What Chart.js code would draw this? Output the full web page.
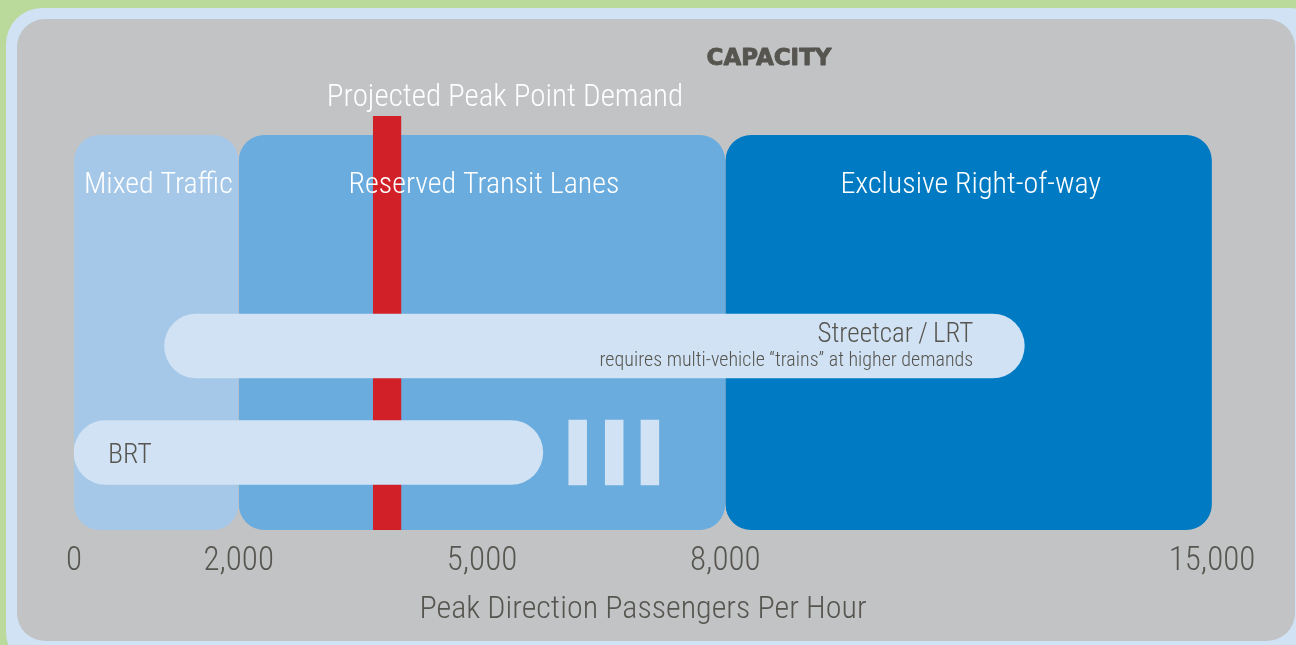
<!DOCTYPE html>
<html>
<head>
<meta charset="utf-8">
<script src="https://cdn.jsdelivr.net/npm/chart.js@4/dist/chart.umd.min.js"></script>
<style>
  html, body { margin: 0; padding: 0; background: #b9da9a; }
  canvas { display: block; }
</style>
</head>
<body>
<canvas id="canvas" width="1296" height="645"></canvas>
<script>
// passengers per hour, peak direction
const axisBreaks = [0, 2000, 8000, 15000];
const segmentSpans = [1.015, 3, 3];      // relative drawn width of each segment
const tickValues = [0, 2000, 5000, 8000, 15000];

const zoneNames = ['Mixed Traffic', 'Reserved Transit Lanes', 'Exclusive Right-of-way'];
const zoneRanges = [[0, 2000], [2000, 8000], [8000, 15000]];
const zoneColors = ['#a5c8e9', '#6aacde', '#007bc3'];

const streetcarRange = [1100, 12300];
const brtRange = [0, 5750];
const brtDashes = [[6070, 6290], [6520, 6740], [6960, 7180]];
const demandRange = [3660, 4000];

const FONT = '"Roboto Condensed", "DejaVu Sans Condensed", sans-serif';
const INK = '#56554f';

// rows along the hidden vertical axis (0 = top of plot area)
const rows = {
  zone: { y: 216.5, h: 395 },
  demand: { y: 207, h: 414 },
  streetcar: { y: 230, h: 64 },
  brt: { y: 336.5, h: 65 }
};

// x scale that gives each capacity segment its own width
class SegmentScale extends Chart.LinearScale {
  toUnits(v) {
    let u = 0;
    for (let i = 0; i < segmentSpans.length; i++) {
      const a = axisBreaks[i], b = axisBreaks[i + 1];
      if (v >= b && i < segmentSpans.length - 1) { u += segmentSpans[i]; continue; }
      return u + segmentSpans[i] * (v - a) / (b - a);
    }
    return u;
  }
  getPixelForValue(v) {
    if (v === null || isNaN(v)) return NaN;
    const total = segmentSpans.reduce((s, x) => s + x, 0);
    return this.getPixelForDecimal(this.toUnits(v) / total);
  }
  getValueForPixel(p) {
    const total = segmentSpans.reduce((s, x) => s + x, 0);
    let u = this.getDecimalForPixel(p) * total;
    for (let i = 0; i < segmentSpans.length; i++) {
      if (u <= segmentSpans[i] || i === segmentSpans.length - 1) {
        return axisBreaks[i] + (axisBreaks[i + 1] - axisBreaks[i]) * u / segmentSpans[i];
      }
      u -= segmentSpans[i];
    }
  }
}
SegmentScale.id = 'segment';
SegmentScale.defaults = Chart.LinearScale.defaults;
Chart.register(SegmentScale);

const panel = {
  id: 'panel',
  beforeDraw(chart) {
    const c = chart.ctx;
    c.save();
    c.fillStyle = '#b9da9a';
    c.fillRect(0, 0, chart.width, chart.height);
    c.fillStyle = '#d0e2f4';
    c.beginPath();
    c.roundRect(6, 8, 1320, 660, 36);
    c.fill();
    c.fillStyle = '#c2c3c5';
    c.beginPath();
    c.roundRect(17, 19, 1278, 622, 28);
    c.fill();
    c.restore();
  }
};

const labels = {
  id: 'labels',
  afterDatasetsDraw(chart) {
    const c = chart.ctx;
    const x = chart.scales.x, y = chart.scales.y;
    c.save();
    c.textBaseline = 'alphabetic';

    // heavy heading
    c.fillStyle = INK;
    c.strokeStyle = INK;
    c.lineWidth = 0.9;
    c.lineJoin = 'round';
    c.font = 'bold 23px "DejaVu Sans", sans-serif';
    c.textAlign = 'center';
    c.fillText('CAPACITY', 769, 65);
    c.strokeText('CAPACITY', 769, 65);

    c.fillStyle = '#ffffff';
    c.font = '300 31px ' + FONT;
    c.fillText('Projected Peak Point Demand', 505, 106);

    c.font = '300 30px ' + FONT;
    zoneNames.forEach((name, i) => {
      const cx = (x.getPixelForValue(zoneRanges[i][0]) + x.getPixelForValue(zoneRanges[i][1])) / 2;
      c.fillText(name, cx + 2, 193);
    });

    c.fillStyle = INK;
    c.textAlign = 'right';
    const scRight = x.getPixelForValue(streetcarRange[1]) - 51;
    const scMid = y.getPixelForValue(rows.streetcar.y);
    c.font = '300 27px ' + FONT;
    c.fillText('Streetcar\u2009/\u2009LRT', scRight, scMid - 4);
    c.font = '300 20px ' + FONT;
    c.fillText('requires multi-vehicle \u201Ctrains\u201D at higher demands', scRight, scMid + 20);

    c.textAlign = 'left';
    c.font = '300 28px ' + FONT;
    c.fillText('BRT', x.getPixelForValue(brtRange[0]) + 34, y.getPixelForValue(rows.brt.y) + 10);
    c.restore();
  }
};

const ctx = document.getElementById('canvas').getContext('2d');

new Chart(ctx, {
  type: 'bar',
  data: {
    datasets: [
      {
        label: 'modes',
        data: [
          { x: streetcarRange, y: rows.streetcar.y },
          { x: brtRange, y: rows.brt.y }
        ],
        backgroundColor: '#d0e2f3',
        barThickness: rows.streetcar.h,
        borderRadius: 32,
        borderSkipped: false,
        stack: 'rows',
        order: 1
      },
      {
        label: 'brt dashes',
        data: brtDashes.map(r => ({ x: r, y: rows.brt.y })),
        backgroundColor: '#d0e2f3',
        barThickness: rows.brt.h,
        stack: 'rows',
        order: 2
      },
      {
        label: 'demand',
        data: [{ x: demandRange, y: rows.demand.y }],
        backgroundColor: '#d12027',
        barThickness: rows.demand.h,
        stack: 'rows',
        order: 3
      },
      {
        label: 'zones',
        data: zoneRanges.map(r => ({ x: r, y: rows.zone.y })),
        backgroundColor: zoneColors,
        borderColor: '#c2c3c5',
        borderWidth: { left: 0.5, right: 0.5 },
        barThickness: rows.zone.h,
        borderRadius: 26,
        borderSkipped: false,
        stack: 'rows',
        order: 4
      }
    ]
  },
  options: {
    indexAxis: 'y',
    responsive: false,
    animation: false,
    layout: { padding: { left: 74, right: 84, top: 116, bottom: 19.4 } },
    plugins: { legend: { display: false }, tooltip: { enabled: false } },
    scales: {
      x: {
        type: 'segment',
        min: 0,
        max: 15000,
        stacked: false,
        grid: { display: false, drawTicks: false },
        border: { display: false },
        afterBuildTicks: (scale) => { scale.ticks = tickValues.map(v => ({ value: v })); },
        ticks: {
          autoSkip: false,
          maxRotation: 0,
          padding: 12,
          color: INK,
          font: { family: FONT, weight: 300, size: 33, lineHeight: 1.2 },
          callback: (v) => Number(v).toLocaleString('en-US')
        },
        title: {
          display: true,
          text: 'Peak Direction Passengers Per Hour',
          color: INK,
          padding: { top: 0, bottom: 0 },
          font: { family: FONT, weight: 300, size: 32, lineHeight: 1 }
        }
      },
      y: {
        type: 'linear',
        display: false,
        offset: false,
        min: 0,
        max: 414,
        reverse: true
      }
    }
  },
  plugins: [panel, labels]
});
</script>
</body>
</html>
